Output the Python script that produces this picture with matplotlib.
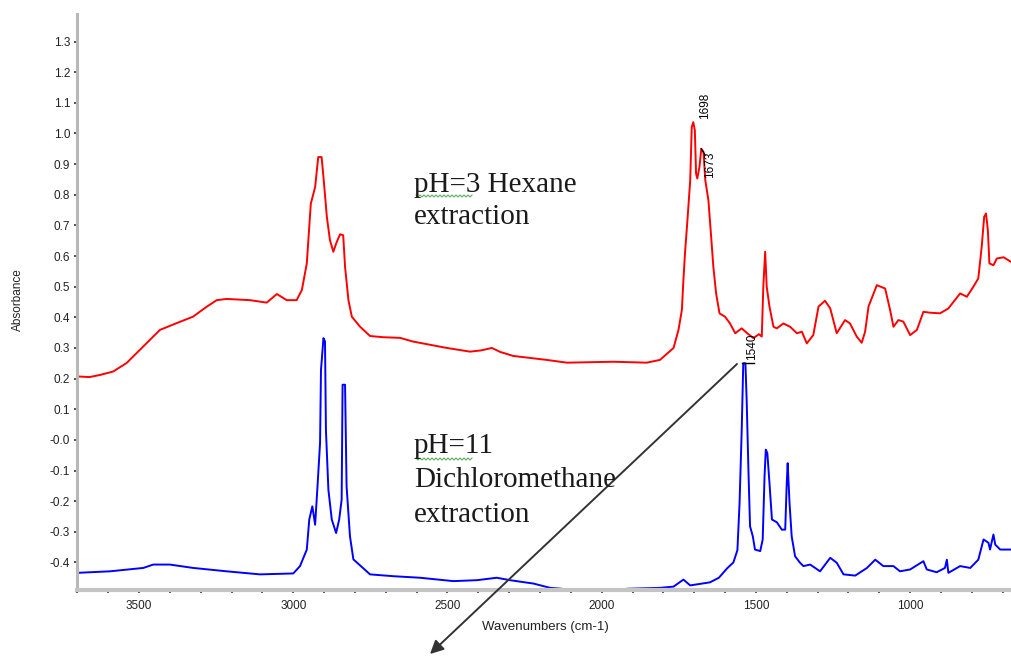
import numpy as np
import matplotlib
matplotlib.use('Agg')
import matplotlib.pyplot as plt
from matplotlib.ticker import FixedLocator, FixedFormatter, MultipleLocator

# spectra (wavenumber in cm-1, absorbance)
red_wn = [3700, 3660, 3626, 3584, 3540, 3487, 3432, 3378, 3325, 3280, 3248, 3216,
          3140, 3086, 3053, 3021, 2989, 2972, 2956, 2943, 2929, 2919, 2908, 2902,
          2891, 2881, 2870, 2859, 2848, 2838, 2832, 2821, 2810, 2783, 2751, 2708,
          2654, 2612, 2502, 2427, 2391, 2356, 2329, 2287, 2178, 2113, 1962, 1854,
          1811, 1767, 1751, 1740, 1735, 1730, 1722, 1713, 1708, 1703, 1698, 1694,
          1690, 1683, 1677, 1670, 1664, 1654, 1646, 1638, 1629, 1618, 1600, 1584,
          1567, 1546, 1528, 1508, 1490, 1481, 1476, 1470, 1465, 1456, 1443, 1432,
          1411, 1389, 1367, 1351, 1335, 1314, 1297, 1276, 1259, 1238, 1211, 1195,
          1173, 1157, 1146, 1135, 1108, 1081, 1065, 1054, 1038, 1022, 1000, 978,
          957, 935, 903, 876, 838, 816, 795, 779, 768, 760, 754, 748, 743, 730,
          719, 697, 673]
red_abs = [0.207, 0.205, 0.212, 0.223, 0.251, 0.304, 0.359, 0.381, 0.402, 0.435, 0.456, 0.460,
           0.456, 0.448, 0.476, 0.456, 0.456, 0.489, 0.576, 0.771, 0.825, 0.923, 0.923, 0.858,
           0.728, 0.652, 0.614, 0.646, 0.671, 0.668, 0.565, 0.456, 0.402, 0.369, 0.339, 0.335,
           0.333, 0.321, 0.300, 0.288, 0.292, 0.300, 0.287, 0.274, 0.261, 0.252, 0.255, 0.252,
           0.261, 0.300, 0.359, 0.424, 0.522, 0.608, 0.717, 0.847, 1.021, 1.037, 1.010, 0.869,
           0.853, 0.891, 0.950, 0.940, 0.847, 0.782, 0.675, 0.565, 0.478, 0.413, 0.402, 0.380,
           0.348, 0.364, 0.348, 0.332, 0.345, 0.337, 0.500, 0.614, 0.500, 0.435, 0.369, 0.364,
           0.380, 0.369, 0.348, 0.353, 0.315, 0.342, 0.435, 0.454, 0.429, 0.348, 0.391, 0.380,
           0.337, 0.317, 0.353, 0.435, 0.505, 0.494, 0.424, 0.369, 0.391, 0.386, 0.342, 0.359,
           0.418, 0.415, 0.413, 0.429, 0.478, 0.467, 0.500, 0.527, 0.630, 0.728, 0.739, 0.684,
           0.576, 0.570, 0.592, 0.596, 0.581]

blue_wn = [3700, 3594, 3486, 3454, 3400, 3324, 3216, 3108, 3000, 2978, 2956, 2948,
           2938, 2929, 2922, 2913, 2910, 2902, 2897, 2894, 2886, 2875, 2861, 2851,
           2843, 2840, 2832, 2827, 2816, 2805, 2751, 2675, 2589, 2481, 2405, 2340,
           2297, 2221, 2167, 2129, 2110, 1935, 1919, 1811, 1767, 1735, 1713, 1681,
           1649, 1620, 1594, 1573, 1560, 1553, 1546, 1541, 1534, 1530, 1524, 1519,
           1510, 1503, 1486, 1478, 1472, 1468, 1463, 1456, 1448, 1432, 1416, 1405,
           1400, 1397, 1391, 1384, 1373, 1357, 1346, 1324, 1292, 1259, 1238, 1216,
           1178, 1140, 1113, 1087, 1054, 1033, 1000, 957, 946, 914, 887, 881,
           876, 838, 805, 779, 762, 746, 741, 730, 724, 708, 673]
blue_abs = [-0.434, -0.429, -0.418, -0.407, -0.407, -0.418, -0.429, -0.439, -0.436, -0.412, -0.358, -0.260,
            -0.217, -0.277, -0.163, -0.010, 0.228, 0.332, 0.321, 0.033, -0.163, -0.260, -0.304, -0.260,
            -0.195, 0.180, 0.180, -0.152, -0.315, -0.390, -0.439, -0.445, -0.450, -0.461, -0.458, -0.450,
            -0.458, -0.469, -0.483, -0.486, -0.510, -0.510, -0.486, -0.483, -0.479, -0.456, -0.475, -0.470,
            -0.465, -0.450, -0.420, -0.400, -0.360, -0.206, 0.033, 0.250, 0.250, 0.131, -0.108, -0.282,
            -0.315, -0.358, -0.363, -0.325, -0.119, -0.032, -0.043, -0.141, -0.260, -0.269, -0.293, -0.293,
            -0.141, -0.076, -0.206, -0.315, -0.380, -0.401, -0.412, -0.407, -0.429, -0.385, -0.401, -0.439,
            -0.443, -0.418, -0.391, -0.412, -0.412, -0.429, -0.423, -0.396, -0.423, -0.432, -0.418, -0.391,
            -0.434, -0.412, -0.418, -0.391, -0.325, -0.336, -0.358, -0.309, -0.342, -0.358, -0.358]

y_ticks = [1.3, 1.2, 1.1, 1.0, 0.9, 0.8, 0.7, 0.6, 0.5, 0.4, 0.3, 0.2, 0.1,
           0.0, -0.1, -0.2, -0.3, -0.4]
y_tick_labels = ['1.3', '1.2', '1.1', '1.0', '0.9', '0.8', '0.7', '0.6', '0.5', '0.4',
                 '0.3', '0.2', '0.1', '-0.0', '-0.1', '-0.2', '-0.3', '-0.4']
x_ticks = [3500, 3000, 2500, 2000, 1500, 1000]

peak_names = ['1698', '1673', '1540']
peak_wn = [1703, 1677, 1538]
peak_abs = [1.037, 0.950, 0.250]

W, H = 1011, 656


def fig_xy(x, y):
    # pixel position in the picture -> figure fraction
    return x / W, 1 - y / H


fig = plt.figure(figsize=(W / 100, H / 100), dpi=100)
ax = fig.add_axes([77 / W, 66 / H, 934 / W, 576 / H])

ax.plot(red_wn, red_abs, color='#ff0000', lw=1.4)
ax.plot(blue_wn, blue_abs, color='#0000ff', lw=1.4)

ax.set_xlim(3701, 673)
ax.set_ylim(-0.49, 1.39)

for side in ['top', 'right']:
    ax.spines[side].set_visible(False)
ax.spines['left'].set_color('#b8b8b8')
ax.spines['left'].set_linewidth(2.2)
ax.spines['bottom'].set_color('#c4c4c4')
ax.spines['bottom'].set_linewidth(3)
ax.plot([0, 0], [0, 1], transform=ax.transAxes, ls=(0, (1, 1.5)),
        color='#444444', lw=1, clip_on=False)

ax.yaxis.set_major_locator(FixedLocator(y_ticks))
ax.yaxis.set_major_formatter(FixedFormatter(y_tick_labels))
ax.xaxis.set_major_locator(FixedLocator(x_ticks))
ax.xaxis.set_minor_locator(MultipleLocator(100))
ax.tick_params(axis='both', which='major', direction='out', length=2, width=1.2,
               color='#333333', labelsize=8.5, labelcolor='#222222')
ax.tick_params(axis='x', which='major', pad=5)
ax.tick_params(axis='y', which='major', pad=3)
ax.tick_params(axis='x', which='minor', direction='out', length=2, width=1.2,
               color='#333333')
for lab in ax.get_xticklabels() + ax.get_yticklabels():
    lab.set_family('Liberation Sans')

fig.text(*fig_xy(545, 627), 'Wavenumbers (cm-1)', ha='center', va='center',
         fontsize=9.5, family='Liberation Sans', color='#222222')
fig.text(*fig_xy(18, 300), 'Absorbance', ha='center', va='center', rotation=90,
         fontsize=8.5, family='Liberation Sans', color='#222222')

# peak labels
ax.text(peak_wn[0] - 38, peak_abs[0] + 0.01, peak_names[0], rotation=90,
        ha='center', va='bottom', fontsize=8.5, family='Liberation Sans')
ax.text(peak_wn[1] - 29, peak_abs[1] - 0.01, peak_names[1], rotation=90,
        ha='center', va='top', fontsize=8.5, family='Liberation Sans')
ax.plot([peak_wn[1], peak_wn[1] - 12], [peak_abs[1], peak_abs[1] - 0.02], color='k', lw=1)
ax.text(peak_wn[2] - 24, peak_abs[2] + 0.01, peak_names[2], rotation=90,
        ha='center', va='bottom', fontsize=8.5, family='Liberation Sans')
ax.plot([peak_wn[2] + 8, peak_wn[2] - 32], [peak_abs[2], peak_abs[2]], color='k', lw=1)

# sample descriptions
serif = dict(fontsize=21, family='Liberation Serif', color='#1a1a1a',
             ha='left', va='top')
fig.text(*fig_xy(414, 172), 'pH=3 Hexane\nextraction', linespacing=1.3, **serif)
fig.text(*fig_xy(414, 433), 'pH=11\nDichloromethane\nextraction', linespacing=1.42, **serif)

# green spell-check squiggles under "pH="
for y0 in [196, 459]:
    xs = np.arange(416, 473, 2.0)
    ys = y0 + np.where(np.arange(len(xs)) % 2 == 0, -1.0, 1.0)
    fig.add_artist(plt.Line2D(xs / W, 1 - ys / H, color='#5cad5c', lw=0.8))

# arrow
ax.annotate('', xy=fig_xy(430, 654), xycoords='figure fraction',
            xytext=fig_xy(737, 364), textcoords='figure fraction',
            arrowprops=dict(arrowstyle='-|>', color='#333333', lw=1.4,
                            mutation_scale=20, shrinkA=0, shrinkB=0),
            annotation_clip=False)

fig.savefig('out.png', dpi=100)
